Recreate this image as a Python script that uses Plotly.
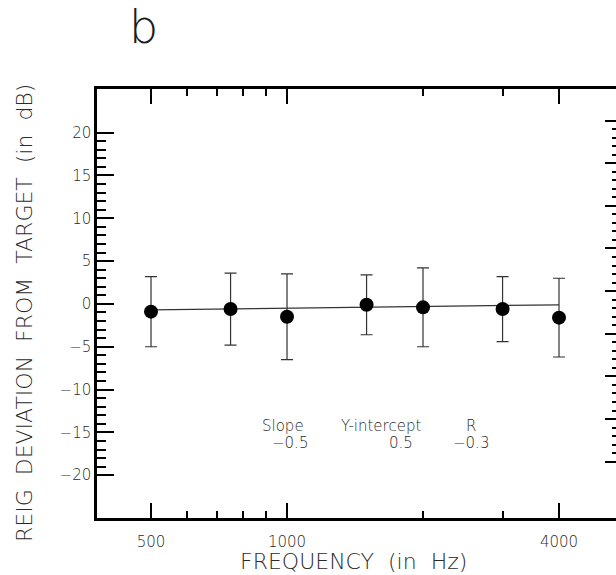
import plotly.graph_objects as go

# ---- data ----
freq = [500, 750, 1000, 1500, 2000, 3000, 4000]
mean_dev = [-0.9, -0.6, -1.5, -0.1, -0.4, -0.6, -1.6]
err_dev = [4.1, 4.2, 5.0, 3.5, 4.6, 3.8, 4.6]

fit_freq = [500, 4000]
fit_dev = [-0.7, -0.1]

x_major = [500, 1000, 4000]
x_labels = ["500", "1000", "4000"]
x_minor = [600, 700, 800, 900, 2000, 3000]

y_major = [-20, -15, -10, -5, 0, 5, 10, 15, 20]
y_labels = ["\u221220", "\u221215", "\u221210", "\u22125", "0", "5", "10", "15", "20"]
y_minor = [v for v in range(-20, 21) if v % 5 != 0]

stat_names = ["Slope", "Y-intercept", "R"]
stat_values = ["\u22120.5", "0.5", "\u22120.3"]

# ---- layout geometry (pixels) ----
W, H = 616, 575
L, R, T, B = 97, 616, 89, 518


def px(x):
    return (x - L) / (R - L)


def py(y):
    return (B - y) / (B - T)


FONT = "DejaVu Sans"
TXT = "#2a2a2a"
WT = 200

fig = go.Figure()

fig.add_trace(go.Scatter(
    x=fit_freq, y=fit_dev, mode="lines",
    line=dict(color="#333333", width=1.2),
    hoverinfo="skip", showlegend=False,
))

fig.add_trace(go.Scatter(
    x=freq, y=mean_dev, mode="markers",
    marker=dict(color="black", size=14, symbol="circle"),
    error_y=dict(type="data", array=err_dev, visible=True,
                 color="#333333", thickness=1.2, width=6),
    showlegend=False,
))

# invisible trace so the right-hand tick axis is drawn
fig.add_trace(go.Scatter(
    x=freq, y=mean_dev, yaxis="y2", mode="markers",
    marker=dict(opacity=0), hoverinfo="skip", showlegend=False,
))

fig.update_layout(
    width=W, height=H,
    margin=dict(l=L, r=W - R, t=T, b=H - B),
    paper_bgcolor="white", plot_bgcolor="white",
    font=dict(family=FONT, color=TXT, size=14, weight=WT),
    xaxis=dict(
        type="log", range=[2.5794, 3.7282],
        showgrid=False, zeroline=False,
        showline=True, linecolor="black", linewidth=2.5, mirror="ticks",
        ticks="inside", ticklen=15, tickwidth=2, tickcolor="black",
        tickmode="array", tickvals=x_major, ticktext=x_labels,
        tickfont=dict(family=FONT, size=15, color=TXT, weight=WT),
        ticklabelstandoff=8,
        minor=dict(tickmode="array", tickvals=x_minor, ticks="inside",
                   ticklen=7, tickwidth=1.5, tickcolor="black", showgrid=False),
    ),
    yaxis=dict(
        range=[-25, 25.1],
        showgrid=False, zeroline=False,
        showline=True, linecolor="black", linewidth=2.5, mirror=False,
        ticks="inside", ticklen=17, tickwidth=2, tickcolor="black",
        tickmode="array", tickvals=y_major, ticktext=y_labels,
        tickfont=dict(family=FONT, size=15, color=TXT, weight=WT),
        minor=dict(tickmode="array", tickvals=y_minor, ticks="inside",
                   ticklen=9, tickwidth=1.5, tickcolor="black", showgrid=False),
    ),
    yaxis2=dict(
        overlaying="y", side="right", anchor="free", position=1,
        range=[-26.6, 23.7],
        showgrid=False, zeroline=False, showline=False,
        ticks="inside", ticklen=11, tickwidth=1.5, tickcolor="black",
        tickmode="array", tickvals=y_major, showticklabels=False,
        minor=dict(tickmode="array", tickvals=y_minor, ticks="inside",
                   ticklen=4, tickwidth=1.5, tickcolor="black", showgrid=False),
    ),
)

ann = []
ann.append(dict(text="b", x=px(143), y=py(27), xref="paper", yref="paper",
                showarrow=False, font=dict(family=FONT, size=46, color="#1a1a1a", weight=WT),
                xanchor="center", yanchor="middle"))
ann.append(dict(text="FREQUENCY  (in  Hz)", x=px(353), y=py(561), xref="paper", yref="paper",
                showarrow=False, font=dict(family=FONT, size=22, color=TXT, weight=WT),
                xanchor="center", yanchor="middle"))
ann.append(dict(text="REIG  DEVIATION  FROM  TARGET  (in  dB)", x=px(24), y=py(313),
                xref="paper", yref="paper", textangle=-90,
                showarrow=False, font=dict(family=FONT, size=22, color=TXT, weight=WT),
                xanchor="center", yanchor="middle"))

name_x = [283, 381, 471]
val_x = [290, 401, 471]
for name, val, nx, vx in zip(stat_names, stat_values, name_x, val_x):
    ann.append(dict(text=name, x=px(nx), y=py(426), xref="paper", yref="paper",
                    showarrow=False, font=dict(family=FONT, size=15, color=TXT, weight=WT),
                    xanchor="center", yanchor="middle"))
    ann.append(dict(text=val, x=px(vx), y=py(443), xref="paper", yref="paper",
                    showarrow=False, font=dict(family=FONT, size=15, color=TXT, weight=WT),
                    xanchor="center", yanchor="middle"))

fig.update_layout(annotations=ann)

fig.write_html(
    "out.html",
    config={"displayModeBar": False},
    post_script="document.body.style.margin='0';document.body.style.overflow='hidden';",
)
